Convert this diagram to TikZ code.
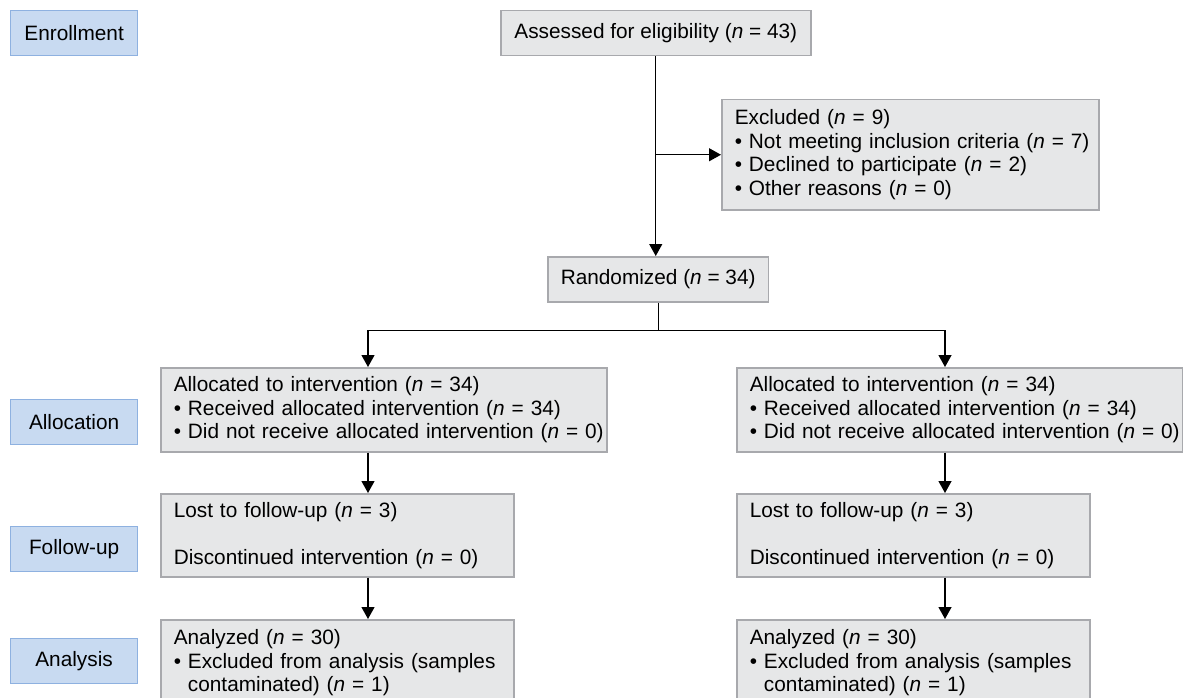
\documentclass[tikz,border=0pt]{standalone}
\usepackage{fontspec}
\setmainfont{Liberation Sans}
\usepackage{xcolor}
\definecolor{boxgray}{HTML}{E6E7E8}
\definecolor{edgegray}{HTML}{A8A9AD}
\definecolor{stageblue}{HTML}{C8DAF1}
\definecolor{stageedge}{HTML}{8EB1E0}
\usetikzlibrary{arrows.meta,positioning}
\newcommand{\nval}[1]{(\textit{n} = #1)}
\newcommand{\bul}{\textbullet\ }

\begin{document}
\begin{tikzpicture}[x=1pt,y=-1pt,>={Triangle[width=13pt,length=12pt]},font=\fontsize{20.8}{23.5}\selectfont]
\tikzset{
 stage/.style={draw=stageedge,fill=stageblue,line width=1.2pt,minimum width=127pt,minimum height=45pt,anchor=north west,inner sep=0pt},
 infobox/.style={draw=edgegray,fill=boxgray,line width=1.5pt,anchor=north west,inner xsep=13pt,inner ysep=0pt,align=left},
 arrow/.style={->,line width=1.2pt}
}
\useasboundingbox (0,0) rectangle (1183,698);
% stage labels
\node[stage] (enrol) at (10,10) {Enrollment};
\node[stage] (alloc) at (10,399) {Allocation};
\node[stage] (follow) at (10,526) {Follow-up};
\node[stage] (analy) at (10,638) {Analysis};
% enrollment
\node[infobox,align=center,minimum width=310pt,minimum height=45pt] (assess) at (500,10) {Assessed for eligibility \nval{43}};
\node[infobox,text width=351pt,minimum height=110pt] (excl) at (721,99) {Excluded \nval{9}\\
 \mbox{\bul Not meeting inclusion criteria \nval{7}}\\
 \bul Declined to participate \nval{2}\\
 \bul Other reasons \nval{0}};
\node[infobox,align=center,minimum width=217pt,minimum height=45pt] (random) at (547,256) {Randomized \nval{34}};
% two arms
\coordinate (colL) at (368,0);
\coordinate (colR) at (945,0);
\node[infobox,text width=420pt,minimum height=84pt] (allocL) at (160,367) {Allocated to intervention \nval{34}\\
 \bul Received allocated intervention \nval{34}\\
 \mbox{\bul Did not receive allocated intervention \nval{0}}};
\node[infobox,text width=420pt,minimum height=84pt] (allocR) at (736,367) {Allocated to intervention \nval{34}\\
 \bul Received allocated intervention \nval{34}\\
 \mbox{\bul Did not receive allocated intervention \nval{0}}};
\node[infobox,text width=327pt,minimum height=83pt] (followL) at (160,493) {Lost to follow-up \nval{3}\\[23.5pt]
 Discontinued intervention \nval{0}};
\node[infobox,text width=327pt,minimum height=83pt] (followR) at (736,493) {Lost to follow-up \nval{3}\\[23.5pt]
 Discontinued intervention \nval{0}};
\node[infobox,text width=327pt,minimum height=86pt] (analL) at (160,619) {Analyzed \nval{30}\\
 \mbox{\bul Excluded from analysis (samples}\\
 \phantom{\bul}contaminated) \nval{1}};
\node[infobox,text width=327pt,minimum height=86pt] (analR) at (736,619) {Analyzed \nval{30}\\
 \mbox{\bul Excluded from analysis (samples}\\
 \phantom{\bul}contaminated) \nval{1}};
% connectors
\draw[arrow] (assess.south) -- (assess.south |- random.north);
\draw[arrow] (assess.south |- excl.west) -- (excl.west);
\draw[arrow] (random.south) -- ++(0,28) coordinate (split) -| (colL |- allocL.north);
\draw[arrow] (split) -| (colR |- allocR.north);
\draw[arrow] (colL |- allocL.south) -- (colL |- followL.north);
\draw[arrow] (colR |- allocR.south) -- (colR |- followR.north);
\draw[arrow] (colL |- followL.south) -- (colL |- analL.north);
\draw[arrow] (colR |- followR.south) -- (colR |- analR.north);
\end{tikzpicture}
\end{document}
